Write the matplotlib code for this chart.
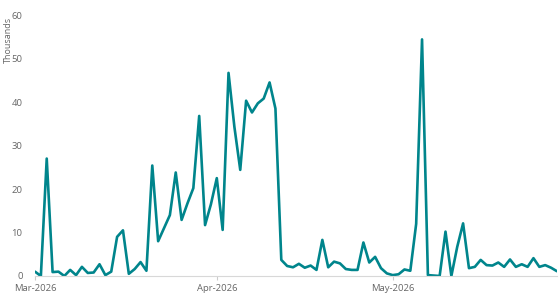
import numpy as np
import pandas as pd
import matplotlib
matplotlib.use('Agg')
import matplotlib.pyplot as plt
import matplotlib.dates as mdates

# daily values, thousands
mar = [1.0, 0.0, 27.0, 0.9, 1.0, 0.0, 1.4, 0.2, 2.1, 0.7,
       0.8, 2.7, 0.2, 1.0, 9.0, 10.5, 0.5, 1.6, 3.2, 1.2,
       25.4, 8.0, 11.0, 14.0, 23.8, 12.9, 16.7, 20.2, 36.8, 11.7,
       16.5]
apr = [22.5, 10.6, 46.7, 34.3, 24.4, 40.3, 37.6, 39.7, 40.8, 44.5,
       38.5, 3.7, 2.3, 2.0, 2.8, 1.9, 2.4, 1.4, 8.3, 2.0,
       3.3, 2.9, 1.6, 1.4, 1.4, 7.7, 3.1, 4.4, 1.8, 0.6]
may = [0.2, 0.4, 1.5, 1.2, 12.0, 54.4, 0.2, 0.1, 0.0, 10.2,
       0.0, 6.7, 12.1, 1.8, 2.1, 3.7, 2.5, 2.4, 3.1, 2.1,
       3.8, 2.1, 2.7, 2.1, 4.1, 2.1, 2.5, 1.9, 1.1]
values = mar + apr + may
dates = pd.date_range('2026-03-01', periods=len(values), freq='D')

tick_dates = pd.to_datetime(['2026-03-01', '2026-04-01', '2026-05-01'])
tick_labels = ['Mar-2026', 'Apr-2026', 'May-2026']
y_ticks = [0, 10, 20, 30, 40, 50, 60]

plt.rcParams['font.family'] = ['Open Sans', 'DejaVu Sans']
txt = '#666666'

fig = plt.figure(figsize=(5.6, 3.07), dpi=100)
ax = fig.add_axes([0.0625, 0.101, 0.932, 0.850])
ax.plot(dates, values, color='#00858C', lw=1.9, solid_joinstyle='round', solid_capstyle='round')

ax.set_xlim(dates[0], dates[-1])
ax.set_ylim(0, 60)
ax.set_yticks(y_ticks)
ax.set_xticks(tick_dates)
ax.set_xticklabels(tick_labels)
ax.tick_params(axis='y', length=0, pad=9, labelsize=6.8, labelcolor=txt)
ax.tick_params(axis='x', length=3, color='#cccccc', pad=3, labelsize=6.8, labelcolor=txt)
for s in ['top', 'right', 'left']:
    ax.spines[s].set_visible(False)
ax.spines['bottom'].set_color('#d8d8d8')
ax.spines['bottom'].set_linewidth(0.8)
ax.set_ylabel('Thousands', fontsize=6.5, color=txt)
ax.yaxis.set_label_coords(-0.043, 0.904)
ax.patch.set_alpha(0)

fig.savefig('out.png', dpi=100)
